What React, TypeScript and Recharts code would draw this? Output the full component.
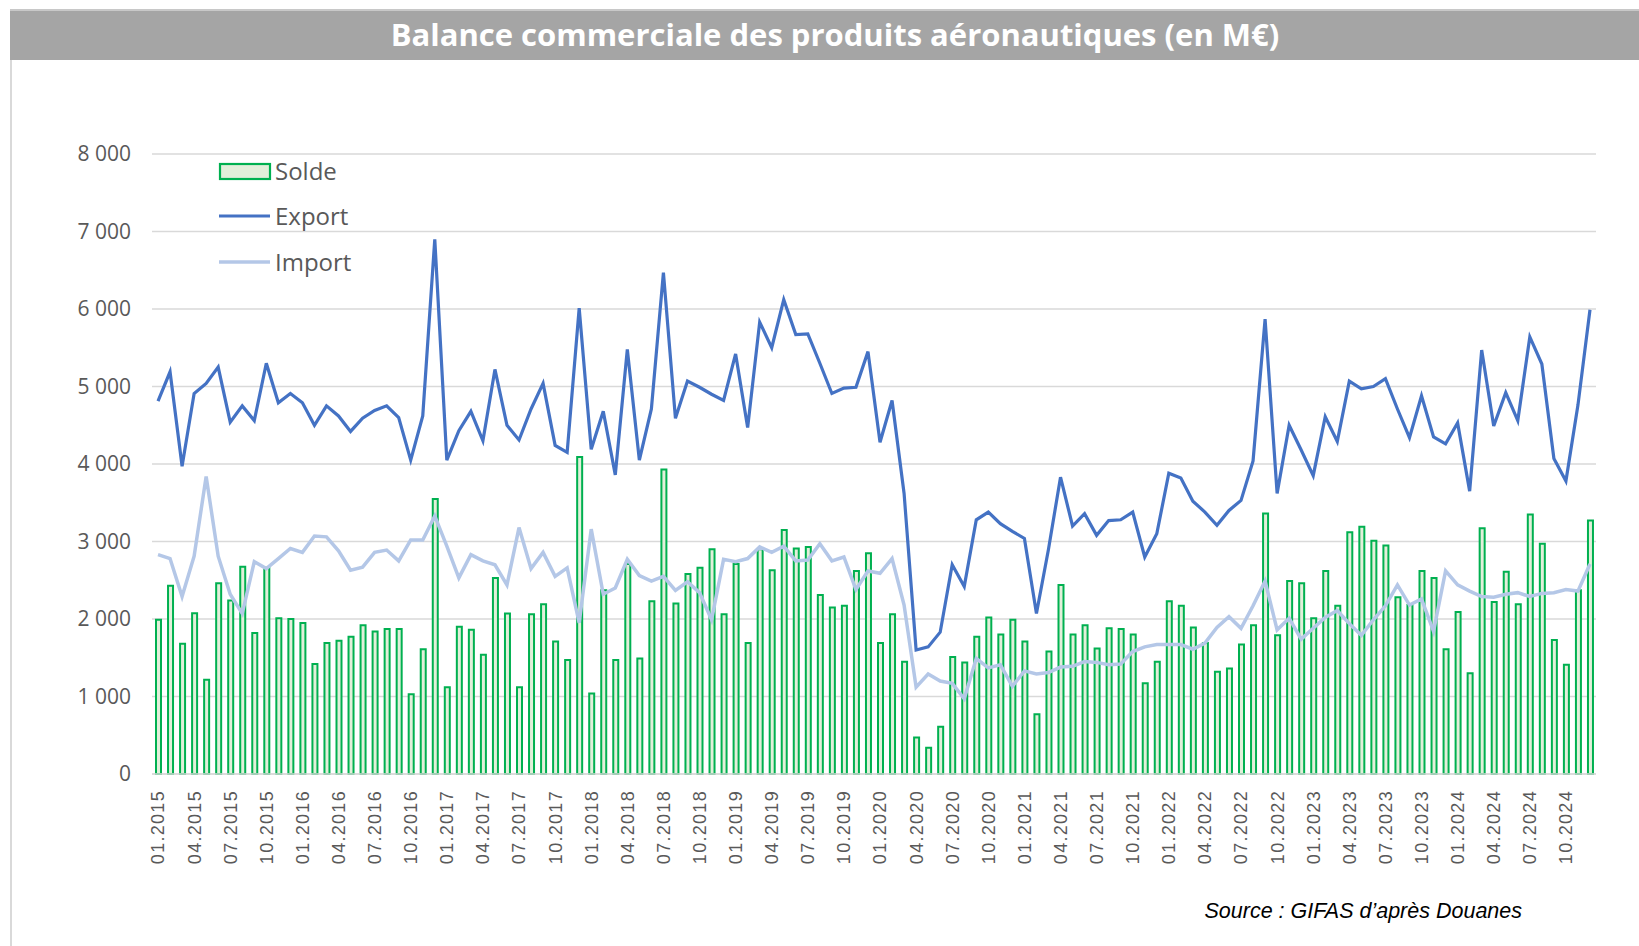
import React from "react";
import { ComposedChart, Bar, Line, XAxis, YAxis, CartesianGrid, Legend } from "recharts";

const years = ["2015", "2016", "2017", "2018", "2019", "2020", "2021", "2022", "2023", "2024"];
const monthCodes = ["01", "02", "03", "04", "05", "06", "07", "08", "09", "10", "11", "12"];
const categories: string[] = years.flatMap((y) => monthCodes.map((m) => `${m}.${y}`));

const soldeValues = [
  1990, 2430, 1680, 2075, 1215, 2460, 2240, 2675, 1820, 2660, 2010, 2000,
  1950, 1420, 1690, 1720, 1770, 1920, 1840, 1870, 1870, 1030, 1610, 3550,
  1120, 1900, 1860, 1540, 2530, 2070, 1120, 2060, 2190, 1710, 1470, 4090,
  1040, 2370, 1470, 2710, 1490, 2230, 3930, 2200, 2580, 2660, 2900, 2060,
  2710, 1690, 2900, 2630, 3150, 2910, 2930, 2310, 2150, 2170, 2620, 2850,
  1690, 2060, 1450, 470, 340, 610, 1510, 1440, 1770, 2020, 1800, 1990,
  1710, 770, 1580, 2440, 1800, 1920, 1620, 1880, 1870, 1800, 1170, 1450,
  2230, 2170, 1890, 1690, 1320, 1360, 1670, 1920, 3360, 1790, 2490, 2460,
  2010, 2620, 2170, 3120, 3190, 3010, 2950, 2280, 2180, 2620, 2530, 1610,
  2090, 1300, 3170, 2220, 2610, 2190, 3350, 2970, 1730, 1410, 2370, 3270,
];

const exportValues = [
  4810, 5190, 3970, 4910, 5040, 5250, 4540, 4750, 4560, 5300, 4790, 4910,
  4790, 4500, 4750, 4620, 4420, 4590, 4690, 4750, 4600, 4050, 4620, 6900,
  4050, 4430, 4680, 4300, 5220, 4500, 4310, 4710, 5040, 4240, 4150, 6010,
  4190, 4680, 3860, 5480, 4050, 4710, 6470, 4590, 5070, 4990, 4900, 4820,
  5420, 4470, 5830, 5500, 6120, 5670, 5680, 5300, 4910, 4980, 4990, 5450,
  4280, 4820, 3620, 1600, 1640, 1830, 2700, 2420, 3280, 3380, 3230, 3130,
  3040, 2070, 2900, 3830, 3200, 3360, 3080, 3270, 3280, 3380, 2800, 3100,
  3880, 3820, 3520, 3380, 3210, 3400, 3530, 4040, 5870, 3620, 4500, 4180,
  3850, 4610, 4290, 5070, 4970, 5000, 5100, 4710, 4340, 4880, 4350, 4260,
  4530, 3650, 5470, 4490, 4920, 4560, 5640, 5290, 4070, 3780, 4760, 5990,
];

const importValues = [
  2830, 2780, 2290, 2810, 3840, 2810, 2320, 2070, 2740, 2650, 2780, 2910,
  2860, 3070, 3060, 2880, 2630, 2670, 2860, 2890, 2750, 3020, 3020, 3330,
  2940, 2530, 2830, 2750, 2700, 2440, 3180, 2650, 2860, 2550, 2660, 1950,
  3160, 2320, 2400, 2770, 2560, 2490, 2550, 2370, 2480, 2340, 1990, 2770,
  2740, 2780, 2930, 2860, 2940, 2750, 2760, 2970, 2750, 2800, 2380, 2620,
  2590, 2780, 2180, 1120, 1290, 1200, 1170, 970, 1490, 1370, 1410, 1130,
  1330, 1290, 1310, 1380, 1390, 1450, 1440, 1410, 1420, 1580, 1640, 1670,
  1670, 1670, 1610, 1690, 1890, 2030, 1880, 2170, 2490, 1860, 2010, 1740,
  1880, 2020, 2110, 1940, 1790, 1990, 2170, 2440, 2180, 2260, 1840, 2620,
  2440, 2360, 2290, 2280, 2320, 2340, 2290, 2330, 2340, 2380, 2360, 2710,
];

const yTicks = [0, 1000, 2000, 3000, 4000, 5000, 6000, 7000, 8000];
const legendLabels = ["Solde", "Export", "Import"];
const titleText = "Balance commerciale des produits aéronautiques (en M€)";
const sourceText = "Source : GIFAS d’après Douanes";

const data = categories.map((c, i) => ({
  month: c,
  solde: soldeValues[i],
  exportV: exportValues[i],
  importV: importValues[i],
}));

const fmt = (v: number) => String(v).replace(/\B(?=(\d{3})+(?!\d))/g, " ");

const XTick = (props: any) => {
  const { x, y, payload } = props;
  return (
    <text
      x={x}
      y={y}
      transform={`rotate(-90, ${x}, ${y})`}
      textAnchor="end"
      dy="0.36em"
      fill="#595959"
      fontSize={18}
      letterSpacing={1.3}
      fontFamily="'Liberation Sans', Arial, sans-serif"
    >
      {payload.value}
    </text>
  );
};

const LegendContent = () => (
  <svg width={200} height={130} style={{ display: "block", overflow: "visible" }}>
    <rect x={10} y={14} width={50} height={15} fill="#e2efda" stroke="#00b050" strokeWidth={2.2} />
    <text x={65} y={29.5} fill="#595959" fontSize={24} fontFamily="'Open Sans', sans-serif">
      {legendLabels[0]}
    </text>
    <line x1={9} x2={60} y1={66} y2={66} stroke="#4472c4" strokeWidth={3} />
    <text x={65} y={74.5} fill="#595959" fontSize={24} fontFamily="'Open Sans', sans-serif">
      {legendLabels[1]}
    </text>
    <line x1={9} x2={60} y1={112} y2={112} stroke="#b4c7e7" strokeWidth={3.5} />
    <text x={65} y={120.5} fill="#595959" fontSize={24} fontFamily="'Open Sans', sans-serif">
      {legendLabels[2]}
    </text>
  </svg>
);

export default function App() {
  return (
    <div
      style={{
        position: "absolute",
        left: 0,
        top: 0,
        width: 1639,
        height: 946,
        background: "#ffffff",
        overflow: "hidden",
      }}
    >
      <div
        style={{
          position: "absolute",
          left: 10,
          top: 9,
          width: 1640,
          height: 51,
          background: "#a5a5a5",
          borderTop: "2px solid #c8c8c8",
          boxSizing: "border-box",
        }}
      />
      <div
        style={{
          position: "absolute",
          left: 0,
          top: 9,
          width: 1670,
          height: 51,
          lineHeight: "50px",
          textAlign: "center",
          color: "#ffffff",
          fontFamily: "'Open Sans', sans-serif",
          fontWeight: 700,
          fontSize: 31,
        }}
      >
        {titleText}
      </div>
      <div
        style={{
          position: "absolute",
          left: 10,
          top: 60,
          width: 1.5,
          height: 886,
          background: "#d9d9d9",
        }}
      />
      <div style={{ position: "absolute", left: 0, top: 0 }}>
        <ComposedChart
          width={1639}
          height={946}
          data={data}
          margin={{ top: 154, right: 43, bottom: 72, left: 0 }}
        >
          <CartesianGrid vertical={false} stroke="#d9d9d9" strokeWidth={1.5} />
          <XAxis
            dataKey="month"
            interval={2}
            height={100}
            tick={<XTick />}
            tickLine={false}
            tickSize={0}
            tickMargin={16}
            axisLine={{ stroke: "#d9d9d9", strokeWidth: 1.5 }}
          />
          <YAxis
            width={152}
            domain={[0, 8000]}
            ticks={yTicks}
            tickFormatter={fmt}
            axisLine={false}
            tickLine={false}
            tickSize={0}
            tickMargin={21}
            tick={{ fill: "#595959", fontSize: 21, fontFamily: "'Open Sans', sans-serif" }}
          />
          <Legend
            layout="vertical"
            align="center"
            verticalAlign="middle"
            content={<LegendContent />}
            wrapperStyle={{ left: 210, top: 150, width: 200, height: 130 }}
          />
          <Bar
            dataKey="solde"
            fill="#e2efda"
            stroke="#00b050"
            strokeWidth={2}
            barSize={5}
            isAnimationActive={false}
          />
          <Line
            type="linear"
            dataKey="exportV"
            stroke="#4472c4"
            strokeWidth={3.2}
            dot={false}
            activeDot={false}
            isAnimationActive={false}
          />
          <Line
            type="linear"
            dataKey="importV"
            stroke="#b4c7e7"
            strokeWidth={3.5}
            dot={false}
            activeDot={false}
            isAnimationActive={false}
          />
        </ComposedChart>
      </div>
      <div
        style={{
          position: "absolute",
          left: 1000,
          top: 897,
          width: 522,
          textAlign: "right",
          fontFamily: "'Liberation Sans', Arial, sans-serif",
          fontStyle: "italic",
          fontSize: 21.5,
          color: "#000000",
          lineHeight: "28px",
        }}
      >
        {sourceText}
      </div>
    </div>
  );
}
